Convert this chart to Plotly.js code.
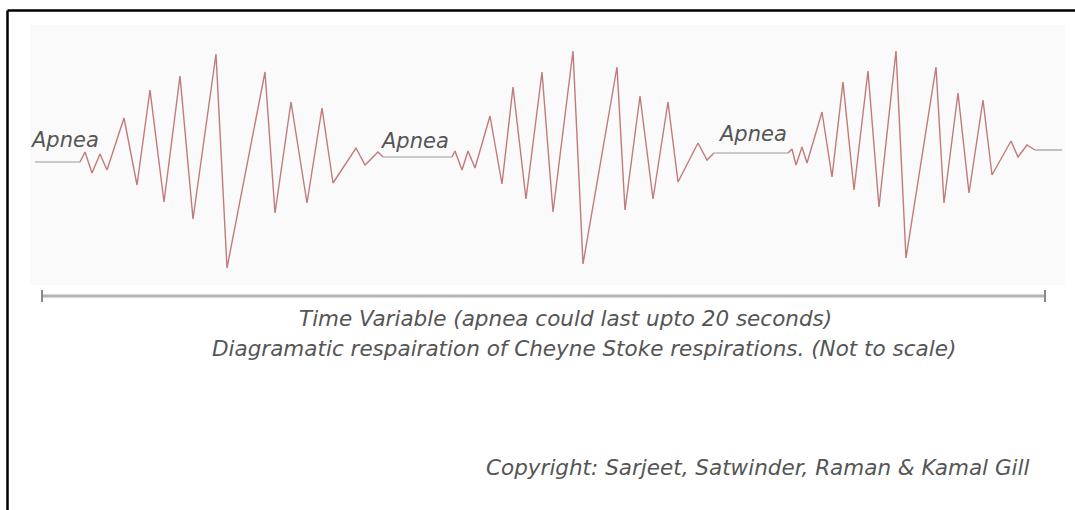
<!DOCTYPE html>
<html>
<head>
<meta charset="utf-8">
<script src="https://cdn.plot.ly/plotly-3.0.1.min.js"></script>
<style>html,body{margin:0;padding:0;background:#fff;}#chart{width:1075px;height:510px;}</style>
</head>
<body>
<div id="chart"></div>
<script>
// Time (arbitrary units) and breathing amplitude (arbitrary units)
var apnea1T = [35, 80];
var apnea1A = [-7, -7];
var cycle1T = [80, 85, 92, 100, 107, 124, 137, 150, 164, 180, 193, 216, 227, 265, 275, 291, 307, 322, 333, 356, 365, 378, 383];
var cycle1A = [-7, 3, -18, 1, -15, 37, -30, 65, -47, 79, -64, 101, -113, 83, -58, 53, -48, 47, -28, 7, -10, 3, -2];
var apnea2T = [383, 452];
var apnea2A = [-2, -2];
var cycle2T = [452, 455, 462, 468, 475, 490, 502, 513, 526, 542, 553, 573, 583, 617, 625, 640, 653, 668, 678, 698, 707, 714];
var cycle2A = [-2, 4, -15, 4, -13, 39, -29, 68, -44, 83, -57, 104, -109, 88, -55, 59, -44, 53, -27, 12, -5, 2];
var apnea3T = [714, 788];
var apnea3A = [2, 2];
var cycle3T = [788, 792, 796, 802, 807, 822, 832, 843, 854, 868, 879, 896, 906, 936, 944, 958, 969, 983, 992, 1011, 1018, 1027, 1035];
var cycle3A = [2, 6, -10, 8, -8, 43, -22, 73, -35, 84, -52, 104, -103, 88, -48, 62, -38, 55, -20, 14, -2, 10, 5];
var tailT = [1035, 1062];
var tailA = [5, 5];

var apneaLabel = "Apnea";
var apneaLabelT = [64, 414, 752];
var apneaLabelA = [15, 14, 21];
var timelineT = [42, 1045];
var timelineA = -141;
var caption1 = "Time Variable (apnea could last upto 20 seconds)";
var caption2 = "Diagramatic respairation of Cheyne Stoke respirations. (Not to scale)";
var copyright = "Copyright: Sarjeet, Satwinder, Raman & Kamal Gill";

var waveColor = "#c27a7a";
var baseColor = "#9a9a9a";
function cyc(t, a) { return {x: t, y: a, type: "scatter", mode: "lines", line: {color: waveColor, width: 1.4}, hoverinfo: "skip"}; }
function base(t, a) { return {x: t, y: a, type: "scatter", mode: "lines", line: {color: baseColor, width: 1.2}, hoverinfo: "skip"}; }

var data = [
  base(apnea1T, apnea1A), cyc(cycle1T, cycle1A),
  base(apnea2T, apnea2A), cyc(cycle2T, cycle2A),
  base(apnea3T, apnea3A), cyc(cycle3T, cycle3A),
  base(tailT, tailA)
];

var fam = "DejaVu Sans, sans-serif";
var txtColor = "#555555";
var annotations = [];
for (var i = 0; i < apneaLabelT.length; i++) {
  annotations.push({x: apneaLabelT[i], y: apneaLabelA[i], xref: "x", yref: "y", text: "<i>" + apneaLabel + "</i>",
    showarrow: false, font: {family: fam, color: txtColor, size: 21}});
}
annotations.push({x: 565, y: -163, xref: "x", yref: "y", text: "<i>" + caption1 + "</i>", showarrow: false, font: {family: fam, color: txtColor, size: 21.5}});
annotations.push({x: 584, y: -193, xref: "x", yref: "y", text: "<i>" + caption2 + "</i>", showarrow: false, font: {family: fam, color: txtColor, size: 21.5}});
annotations.push({x: 758, y: -312, xref: "x", yref: "y", text: "<i>" + copyright + "</i>", showarrow: false, font: {family: fam, color: txtColor, size: 21.5}});

var shapes = [
  {type: "rect", xref: "x", yref: "y", x0: 30, x1: 1065, y0: -130, y1: 130, fillcolor: "#fafafa", line: {width: 0}, layer: "below"},
  {type: "line", xref: "x", yref: "y", x0: timelineT[0], x1: timelineT[1], y0: timelineA, y1: timelineA, line: {color: "#b5b5b5", width: 3}},
  {type: "line", xref: "x", yref: "y", x0: timelineT[0], x1: timelineT[0], y0: timelineA - 6, y1: timelineA + 6, line: {color: "#8a8a8a", width: 2}},
  {type: "line", xref: "x", yref: "y", x0: timelineT[1], x1: timelineT[1], y0: timelineA - 6, y1: timelineA + 6, line: {color: "#8a8a8a", width: 2}},
  {type: "line", xref: "paper", yref: "paper", x0: 7.5/1075, x1: 1, y0: 1 - 10.5/510, y1: 1 - 10.5/510, line: {color: "#000", width: 2.5}},
  {type: "line", xref: "paper", yref: "paper", x0: 7.5/1075, x1: 7.5/1075, y0: 0, y1: 1 - 10.5/510, line: {color: "#000", width: 2.5}}
];

var layout = {
  width: 1075, height: 510,
  margin: {l: 0, r: 0, t: 0, b: 0, pad: 0},
  paper_bgcolor: "#ffffff", plot_bgcolor: "#ffffff",
  showlegend: false,
  xaxis: {range: [0, 1075], visible: false, fixedrange: true},
  yaxis: {range: [-355, 155], visible: false, fixedrange: true},
  annotations: annotations,
  shapes: shapes
};
Plotly.newPlot("chart", data, layout, {displayModeBar: false, staticPlot: true});
</script>
</body>
</html>
